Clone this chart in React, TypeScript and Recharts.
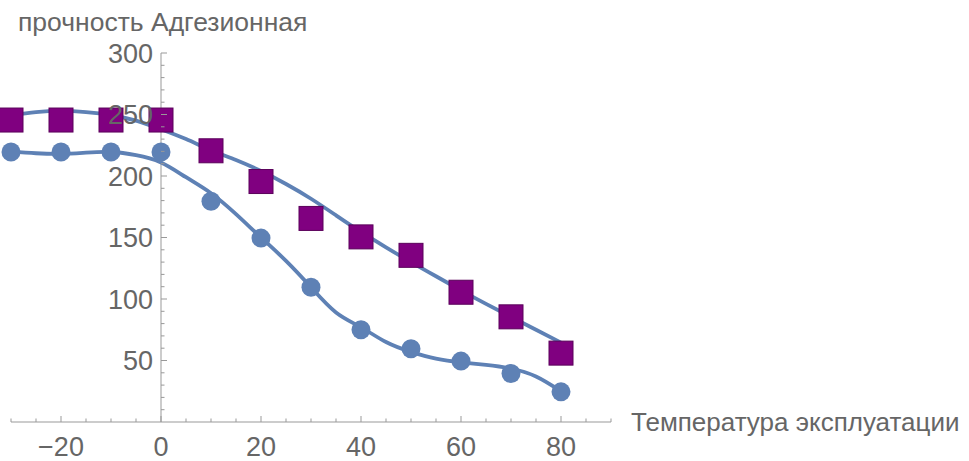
import React from 'react';
import { ComposedChart, XAxis, YAxis, Line, Scatter, ReferenceLine } from 'recharts';

// ---- data ----
const temps = [-30, -20, -10, 0, 10, 20, 30, 40, 50, 60, 70, 80];
const squareValues = [245.5, 245.5, 245.5, 245.5, 220.5, 195.5, 165.5, 150.5, 135.5, 105.5, 85.5, 56];
const circleValues = [219.5, 219.5, 219.5, 219.5, 179.5, 149.5, 109.5, 75, 59.5, 49.5, 39.5, 24.5];

const fitTemps = [-30, -25, -20, -15, -10, -5, 0, 5, 10, 15, 20, 25, 30, 35, 40, 45, 50, 55, 60, 65, 70, 75, 80];
const upperFit = [249.5, 252, 253, 252, 249.5, 245, 238, 230, 221, 213, 204, 193.5, 181.5, 168, 154.5, 142, 130, 118.5, 107, 96, 85.5, 75, 64.5];
const lowerFit = [220, 218.5, 218, 219, 219.5, 217, 211, 199, 186, 169, 150, 131, 109.5, 89, 77, 65, 57, 51.5, 48.5, 46.5, 43.5, 37, 25];

const xTicks = [-30, -25, -20, -15, -10, -5, 0, 5, 10, 15, 20, 25, 30, 35, 40, 45, 50, 55, 60, 65, 70, 75, 80, 85, 90];
const xLabels = [-20, 0, 20, 40, 60, 80];
const yTicks = [10, 20, 30, 40, 50, 60, 70, 80, 90, 100, 110, 120, 130, 140, 150, 160, 170, 180, 190, 200, 210, 220, 230, 240, 250, 260, 270, 280, 290, 300];
const yLabels = [50, 100, 150, 200, 250, 300];

const xTitle = 'Температура эксплуатации';
const yTitle = 'прочность Адгезионная';

// ---- layout ----
const W = 969;
const H = 461;
const X_DOMAIN: [number, number] = [-30, 90];
const Y_DOMAIN: [number, number] = [0, 300];
const PLOT_LEFT = 11;
const PLOT_RIGHT = 611;
const PLOT_TOP = 53;
const PLOT_BOTTOM = 422;
const Y_AXIS_W = 1;
const X_AXIS_H = 39;
const AXIS_X = PLOT_LEFT + ((0 - X_DOMAIN[0]) / (X_DOMAIN[1] - X_DOMAIN[0])) * (PLOT_RIGHT - PLOT_LEFT);

const BLUE = '#5E81B5';
const PURPLE = '#800080';
const PURPLE_EDGE = '#5a005a';
const AXIS = '#999999';
const TEXT = '#666666';
const FONT = "'Liberation Sans', Arial, sans-serif";

const squareData = temps.map((x, i) => ({ x, y: squareValues[i] }));
const circleData = temps.map((x, i) => ({ x, y: circleValues[i] }));
const upperData = fitTemps.map((x, i) => ({ x, y: upperFit[i] }));
const lowerData = fitTemps.map((x, i) => ({ x, y: lowerFit[i] }));

const fmt = (v: number) => (v < 0 ? '\u2212' + Math.abs(v) : String(v));

const XTick = (props: any) => {
  const { x, y, payload } = props;
  const v = payload.value as number;
  const major = xLabels.includes(v);
  return (
    <g>
      <line x1={x} x2={x} y1={y} y2={y - (major ? 6 : 3.5)} stroke={AXIS} strokeWidth={1} />
      {major && (
        <text x={x} y={y + 34} textAnchor="middle" fill={TEXT} fontSize={27} fontFamily={FONT}>
          {fmt(v)}
        </text>
      )}
    </g>
  );
};

const YTick = (props: any) => {
  const { y, payload } = props;
  const v = payload.value as number;
  const major = yLabels.includes(v);
  return (
    <g>
      <line x1={AXIS_X} x2={AXIS_X + (major ? 6 : 3.5)} y1={y} y2={y} stroke={AXIS} strokeWidth={1} />
      {major && (
        <text x={AXIS_X - 8} y={y + 9.5} textAnchor="end" fill={TEXT} fontSize={27} fontFamily={FONT}>
          {fmt(v)}
        </text>
      )}
    </g>
  );
};

const SquareShape = (props: any) => {
  const { cx, cy } = props;
  if (cx == null || cy == null) return null;
  return <rect x={cx - 12} y={cy - 12} width={24} height={24} fill={PURPLE} stroke={PURPLE_EDGE} strokeWidth={1} />;
};

const CircleShape = (props: any) => {
  const { cx, cy } = props;
  if (cx == null || cy == null) return null;
  return <circle cx={cx} cy={cy} r={9.5} fill={BLUE} />;
};

const XTitle = (props: any) => {
  const vb = props.viewBox || {};
  return (
    <text x={vb.x + vb.width + 20} y={vb.y + 9} fill={TEXT} fontSize={26} fontFamily={FONT}>
      {xTitle}
    </text>
  );
};

const YTitle = (props: any) => {
  const vb = props.viewBox || {};
  return (
    <text x={PLOT_LEFT + 7} y={vb.y - 22} fill={TEXT} fontSize={26.5} fontFamily={FONT}>
      {yTitle}
    </text>
  );
};

export default function App() {
  return (
    <div style={{ position: 'absolute', left: 0, top: 0, width: W, height: H, background: '#fff' }}>
      <ComposedChart
        width={W}
        height={H}
        margin={{ top: PLOT_TOP, right: W - PLOT_RIGHT, bottom: H - PLOT_BOTTOM - X_AXIS_H, left: PLOT_LEFT - Y_AXIS_W }}
      >
        <XAxis
          type="number"
          dataKey="x"
          domain={X_DOMAIN}
          ticks={xTicks}
          interval={0}
          height={X_AXIS_H}
          tickSize={0}
          tickMargin={0}
          tickLine={false}
          axisLine={{ stroke: AXIS, strokeWidth: 1 }}
          tick={<XTick />}
          label={<XTitle />}
        />
        <YAxis
          type="number"
          dataKey="y"
          domain={Y_DOMAIN}
          ticks={yTicks}
          interval={0}
          width={Y_AXIS_W}
          tickSize={0}
          tickMargin={0}
          tickLine={false}
          axisLine={false}
          tick={<YTick />}
          label={<YTitle />}
        />
        <ReferenceLine x={0} stroke={AXIS} strokeWidth={1} />
        <Scatter data={squareData} dataKey="y" shape={<SquareShape />} isAnimationActive={false} />
        <Scatter data={circleData} dataKey="y" shape={<CircleShape />} isAnimationActive={false} />
        <Line data={upperData} dataKey="y" type="natural" stroke={BLUE} strokeWidth={3.8} dot={false} activeDot={false} isAnimationActive={false} />
        <Line data={lowerData} dataKey="y" type="natural" stroke={BLUE} strokeWidth={3.8} dot={false} activeDot={false} isAnimationActive={false} />
      </ComposedChart>
    </div>
  );
}
